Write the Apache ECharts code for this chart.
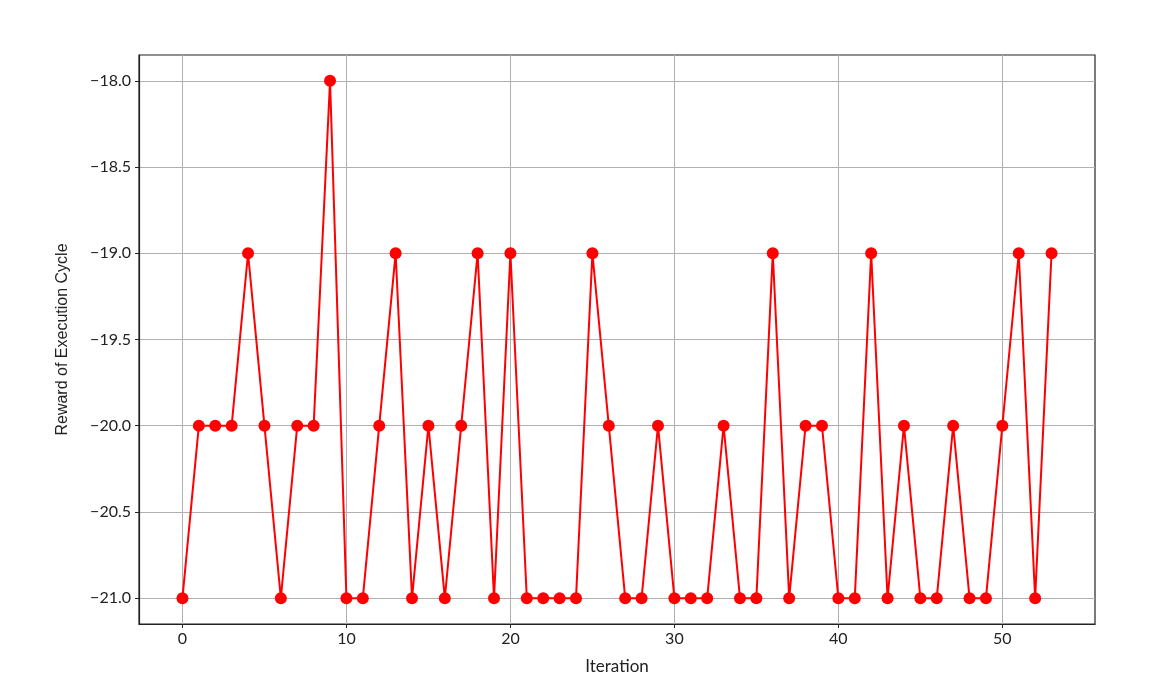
<!DOCTYPE html>
<html>
<head>
<meta charset="utf-8">
<script src="https://cdn.jsdelivr.net/npm/echarts@6/dist/echarts.min.js"></script>
<style>html,body{margin:0;padding:0;background:#fff}#c{width:1170px;height:686px}</style>
</head>
<body>
<div id="c"></div>
<script>
const iterations = [0,1,2,3,4,5,6,7,8,9,10,11,12,13,14,15,16,17,18,19,20,21,22,23,24,25,26,27,28,29,30,31,32,33,34,35,36,37,38,39,40,41,42,43,44,45,46,47,48,49,50,51,52,53];
const rewards = [-21,-20,-20,-20,-19,-20,-21,-20,-20,-18,-21,-21,-20,-19,-21,-20,-21,-20,-19,-21,-19,-21,-21,-21,-21,-19,-20,-21,-21,-20,-21,-21,-21,-20,-21,-21,-19,-21,-20,-20,-21,-21,-19,-21,-20,-21,-21,-20,-21,-21,-20,-19,-21,-19];
const xTicks = [0,10,20,30,40,50];
const yTicks = [-21,-20.5,-20,-19.5,-19,-18.5,-18];
const xLabel = 'Iteration';
const yLabel = 'Reward of Execution Cycle';

const chart = echarts.init(document.getElementById('c'), null, {renderer:'canvas'});
const tickFont = {fontFamily:'Lato', fontSize:16, color:'#222'};
chart.setOption({
  animation:false,
  backgroundColor:'#fff',
  grid:{left:139, right:75, top:55, bottom:62, show:true, borderColor:'#222', borderWidth:1.2, backgroundColor:'transparent'},
  xAxis:{
    type:'value', min:-2.65, max:55.65,
    name:xLabel, nameLocation:'middle', nameGap:34,
    nameTextStyle:{fontFamily:'Lato', fontSize:17, color:'#222'},
    axisLine:{show:true, onZero:false, lineStyle:{color:'#222', width:1.2}},
    axisTick:{show:true, length:4, customValues:xTicks, lineStyle:{color:'#222'}},
    axisLabel:Object.assign({customValues:xTicks, margin:7, formatter:v=>String(v)}, tickFont),
    splitLine:{show:true, lineStyle:{color:'#b0b0b0', width:1}}
  },
  yAxis:{
    type:'value', min:-21.15, max:-17.85,
    name:yLabel, nameLocation:'middle', nameGap:68,
    nameTextStyle:{fontFamily:'Liberation Sans', fontSize:16, color:'#222'},
    axisLine:{show:true, onZero:false, lineStyle:{color:'#222', width:1.2}},
    axisTick:{show:true, length:4, customValues:yTicks, lineStyle:{color:'#222'}},
    axisLabel:Object.assign({customValues:yTicks, margin:8, formatter:v=>(v<0?'\u2212':'')+Math.abs(v).toFixed(1)}, tickFont),
    splitLine:{show:true, lineStyle:{color:'#b0b0b0', width:1}}
  },
  series:[{
    type:'line',
    data:iterations.map((x,i)=>[x,rewards[i]]),
    symbol:'circle', symbolSize:12,
    itemStyle:{color:'#ff0000'},
    lineStyle:{color:'#ff0000', width:2},
    clip:false
  }]
});
</script>
</body>
</html>
